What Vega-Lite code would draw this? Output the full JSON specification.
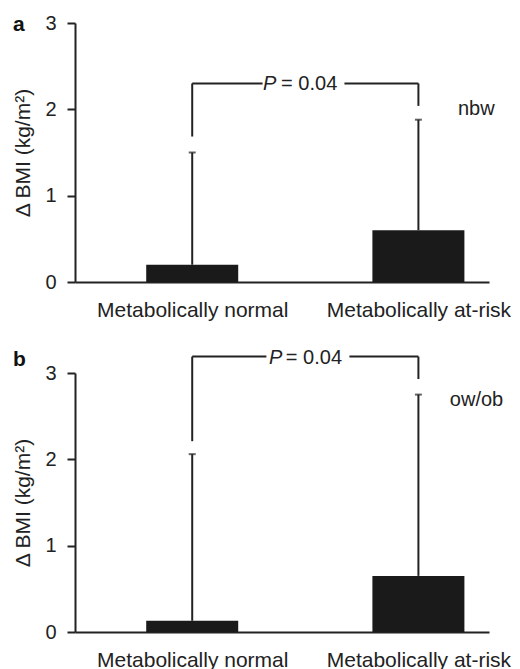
{
  "$schema": "https://vega.github.io/schema/vega-lite/v6.json",
  "padding": {"left": 12, "top": 13, "right": 0, "bottom": 0},
  "background": "white",
  "bounds": "flush",
  "spacing": 91,
  "config": {
    "view": {"stroke": null},
    "font": "Liberation Sans",
    "text": {"font": "Liberation Sans", "color": "#222"}
  },
  "datasets": {
    "bars": [
      {"panel": "a", "group": "Metabolically normal", "x": 1, "mean": 0.2, "upper": 1.5},
      {"panel": "a", "group": "Metabolically at-risk", "x": 2, "mean": 0.6, "upper": 1.88},
      {"panel": "b", "group": "Metabolically normal", "x": 1, "mean": 0.13, "upper": 2.06},
      {"panel": "b", "group": "Metabolically at-risk", "x": 2, "mean": 0.65, "upper": 2.75}
    ],
    "bracket": [
      {"panel": "a", "x": 1, "x2": 1, "y": 1.685, "y2": 2.3},
      {"panel": "a", "x": 2, "x2": 2, "y": 2.04, "y2": 2.3},
      {"panel": "a", "x": 1, "x2": 1.311, "y": 2.3, "y2": 2.3},
      {"panel": "a", "x": 1.673, "x2": 2, "y": 2.3, "y2": 2.3},
      {"panel": "b", "x": 1, "x2": 1, "y": 2.21, "y2": 3.19},
      {"panel": "b", "x": 2, "x2": 2, "y": 2.93, "y2": 3.19},
      {"panel": "b", "x": 1, "x2": 1.328, "y": 3.19, "y2": 3.19},
      {"panel": "b", "x": 1.695, "x2": 2, "y": 3.19, "y2": 3.19}
    ],
    "pvalue": [
      {"panel": "a", "xp": 1.372, "xv": 1.393, "y": 2.3, "p": "P", "v": "= 0.04"},
      {"panel": "b", "xp": 1.398, "xv": 1.414, "y": 3.19, "p": "P", "v": "= 0.04"}
    ],
    "groups": [
      {"panel": "a", "x": 2.175, "y": 1.94, "label": "nbw"},
      {"panel": "b", "x": 2.139, "y": 2.62, "label": "ow/ob"}
    ]
  },
  "vconcat": [
    {
      "width": 414,
      "height": 259,
      "title": {"text": "a", "anchor": "start", "frame": "group", "fontSize": 21, "fontWeight": "bold", "color": "#111", "dx": -62, "dy": 39, "offset": 0, "baseline": "alphabetic", "font": "Liberation Sans"},
      "layer": [
        {
          "data": {"name": "bars"},
          "transform": [{"filter": "datum.panel == 'a'"}],
          "mark": {"type": "bar", "size": 92, "color": "#1a1a1a", "orient": "vertical"},
          "encoding": {
            "x": {"field": "x", "type": "quantitative", "scale": {"domain": [0.5039, 2.29], "nice": false, "zero": false},
              "axis": {"values": [1, 2], "labelExpr": "datum.value == 1 ? 'Metabolically normal' : 'Metabolically at-risk'", "ticks": false, "tickSize": 0, "domainColor": "#222", "domainWidth": 2, "labelFontSize": 21, "labelPadding": 17, "labelLimit": 0, "labelColor": "#222", "labelFont": "Liberation Sans", "title": null, "grid": false, "labelFlush": false, "labelOverlap": false}},
            "y": {"field": "mean", "type": "quantitative", "scale": {"domain": [0, 3], "nice": false},
              "axis": {"values": [0, 1, 2, 3], "format": "d", "tickSize": 8, "tickWidth": 2, "tickColor": "#222", "domainColor": "#222", "domainWidth": 2, "labelFontSize": 20, "labelColor": "#222", "labelFont": "Liberation Sans", "labelPadding": 11, "title": "Δ BMI (kg/m²)", "titleFontSize": 21, "titleFontWeight": "normal", "titleColor": "#222", "titleFont": "Liberation Sans", "titlePadding": 11, "grid": false}}
          }
        },
        {
          "data": {"name": "bars"},
          "transform": [{"filter": "datum.panel == 'a'"}],
          "mark": {"type": "rule", "color": "#222", "strokeWidth": 2},
          "encoding": {
            "x": {"field": "x", "type": "quantitative", "title": null},
            "y": {"field": "mean", "type": "quantitative", "title": "Δ BMI (kg/m²)"},
            "y2": {"field": "upper"}
          }
        },
        {
          "data": {"name": "bars"},
          "transform": [{"filter": "datum.panel == 'a'"}],
          "mark": {"type": "tick", "color": "#222", "size": 7, "thickness": 2, "orient": "horizontal"},
          "encoding": {
            "x": {"field": "x", "type": "quantitative", "title": null},
            "y": {"field": "upper", "type": "quantitative", "title": "Δ BMI (kg/m²)"}
          }
        },
        {
          "data": {"name": "bracket"},
          "transform": [{"filter": "datum.panel == 'a'"}],
          "mark": {"type": "rule", "color": "#222", "strokeWidth": 2, "clip": false},
          "encoding": {
            "x": {"field": "x", "type": "quantitative", "title": null},
            "x2": {"field": "x2"},
            "y": {"field": "y", "type": "quantitative", "title": "Δ BMI (kg/m²)"},
            "y2": {"field": "y2"}
          }
        },
        {
          "data": {"name": "pvalue"},
          "transform": [{"filter": "datum.panel == 'a'"}],
          "mark": {"type": "text", "fontSize": 20, "fontStyle": "italic", "align": "right", "baseline": "middle", "dy": 1, "clip": false},
          "encoding": {
            "x": {"field": "xp", "type": "quantitative", "title": null},
            "y": {"field": "y", "type": "quantitative", "title": "Δ BMI (kg/m²)"},
            "text": {"field": "p"}
          }
        },
        {
          "data": {"name": "pvalue"},
          "transform": [{"filter": "datum.panel == 'a'"}],
          "mark": {"type": "text", "fontSize": 20, "align": "left", "baseline": "middle", "dy": 1, "clip": false},
          "encoding": {
            "x": {"field": "xv", "type": "quantitative", "title": null},
            "y": {"field": "y", "type": "quantitative", "title": "Δ BMI (kg/m²)"},
            "text": {"field": "v"}
          }
        },
        {
          "data": {"name": "groups"},
          "transform": [{"filter": "datum.panel == 'a'"}],
          "mark": {"type": "text", "fontSize": 20, "align": "left", "baseline": "alphabetic", "clip": false},
          "encoding": {
            "x": {"field": "x", "type": "quantitative", "title": null},
            "y": {"field": "y", "type": "quantitative", "title": "Δ BMI (kg/m²)"},
            "text": {"field": "label"}
          }
        }
      ]
    },
    {
      "width": 414,
      "height": 259,
      "title": {"text": "b", "anchor": "start", "frame": "group", "fontSize": 21, "fontWeight": "bold", "color": "#111", "dx": -62, "dy": 39, "offset": 0, "baseline": "alphabetic", "font": "Liberation Sans"},
      "layer": [
        {
          "data": {"name": "bars"},
          "transform": [{"filter": "datum.panel == 'b'"}],
          "mark": {"type": "bar", "size": 92, "color": "#1a1a1a", "orient": "vertical"},
          "encoding": {
            "x": {"field": "x", "type": "quantitative", "scale": {"domain": [0.5039, 2.29], "nice": false, "zero": false},
              "axis": {"values": [1, 2], "labelExpr": "datum.value == 1 ? 'Metabolically normal' : 'Metabolically at-risk'", "ticks": false, "tickSize": 0, "domainColor": "#222", "domainWidth": 2, "labelFontSize": 21, "labelPadding": 17, "labelLimit": 0, "labelColor": "#222", "labelFont": "Liberation Sans", "title": null, "grid": false, "labelFlush": false, "labelOverlap": false}},
            "y": {"field": "mean", "type": "quantitative", "scale": {"domain": [0, 3], "nice": false},
              "axis": {"values": [0, 1, 2, 3], "format": "d", "tickSize": 8, "tickWidth": 2, "tickColor": "#222", "domainColor": "#222", "domainWidth": 2, "labelFontSize": 20, "labelColor": "#222", "labelFont": "Liberation Sans", "labelPadding": 11, "title": "Δ BMI (kg/m²)", "titleFontSize": 21, "titleFontWeight": "normal", "titleColor": "#222", "titleFont": "Liberation Sans", "titlePadding": 11, "grid": false}}
          }
        },
        {
          "data": {"name": "bars"},
          "transform": [{"filter": "datum.panel == 'b'"}],
          "mark": {"type": "rule", "color": "#222", "strokeWidth": 2},
          "encoding": {
            "x": {"field": "x", "type": "quantitative", "title": null},
            "y": {"field": "mean", "type": "quantitative", "title": "Δ BMI (kg/m²)"},
            "y2": {"field": "upper"}
          }
        },
        {
          "data": {"name": "bars"},
          "transform": [{"filter": "datum.panel == 'b'"}],
          "mark": {"type": "tick", "color": "#222", "size": 7, "thickness": 2, "orient": "horizontal"},
          "encoding": {
            "x": {"field": "x", "type": "quantitative", "title": null},
            "y": {"field": "upper", "type": "quantitative", "title": "Δ BMI (kg/m²)"}
          }
        },
        {
          "data": {"name": "bracket"},
          "transform": [{"filter": "datum.panel == 'b'"}],
          "mark": {"type": "rule", "color": "#222", "strokeWidth": 2, "clip": false},
          "encoding": {
            "x": {"field": "x", "type": "quantitative", "title": null},
            "x2": {"field": "x2"},
            "y": {"field": "y", "type": "quantitative", "title": "Δ BMI (kg/m²)"},
            "y2": {"field": "y2"}
          }
        },
        {
          "data": {"name": "pvalue"},
          "transform": [{"filter": "datum.panel == 'b'"}],
          "mark": {"type": "text", "fontSize": 20, "fontStyle": "italic", "align": "right", "baseline": "middle", "dy": 1, "clip": false},
          "encoding": {
            "x": {"field": "xp", "type": "quantitative", "title": null},
            "y": {"field": "y", "type": "quantitative", "title": "Δ BMI (kg/m²)"},
            "text": {"field": "p"}
          }
        },
        {
          "data": {"name": "pvalue"},
          "transform": [{"filter": "datum.panel == 'b'"}],
          "mark": {"type": "text", "fontSize": 20, "align": "left", "baseline": "middle", "dy": 1, "clip": false},
          "encoding": {
            "x": {"field": "xv", "type": "quantitative", "title": null},
            "y": {"field": "y", "type": "quantitative", "title": "Δ BMI (kg/m²)"},
            "text": {"field": "v"}
          }
        },
        {
          "data": {"name": "groups"},
          "transform": [{"filter": "datum.panel == 'b'"}],
          "mark": {"type": "text", "fontSize": 20, "align": "left", "baseline": "alphabetic", "clip": false},
          "encoding": {
            "x": {"field": "x", "type": "quantitative", "title": null},
            "y": {"field": "y", "type": "quantitative", "title": "Δ BMI (kg/m²)"},
            "text": {"field": "label"}
          }
        }
      ]
    }
  ]
}
